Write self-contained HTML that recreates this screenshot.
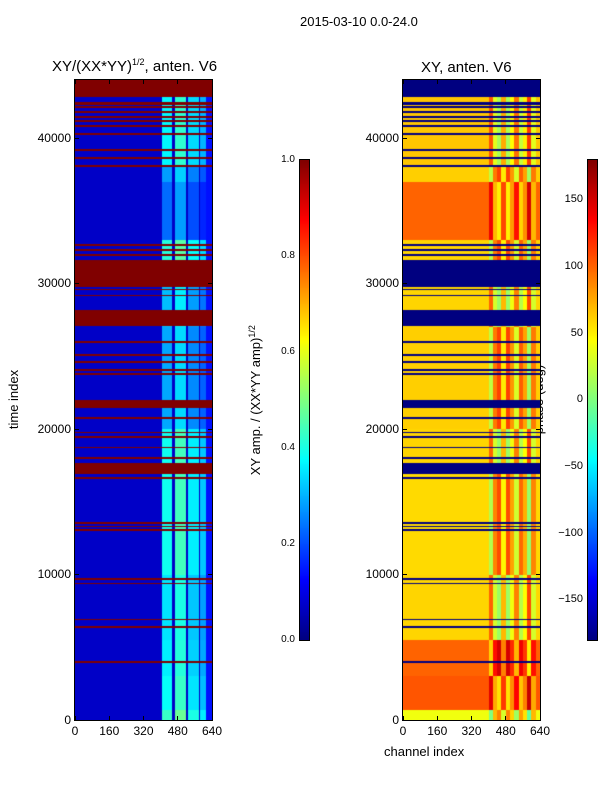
<!DOCTYPE html>
<html><head><meta charset="utf-8">
<style>
html,body{margin:0;padding:0;background:#fff;}
body{width:600px;height:800px;position:relative;overflow:hidden;font-family:"Liberation Sans",sans-serif;color:#000;}
.t{position:absolute;white-space:nowrap;}
canvas{position:absolute;}
.frame{position:absolute;border:1px solid #000;box-sizing:border-box;}
</style></head><body>
<div class="t" style="left:300px;top:14px;font-size:13px;">2015-03-10 0.0-24.0</div>
<div class="t" style="left:52px;top:57px;font-size:15px;">XY/(XX*YY)<sup style="font-size:9px">1/2</sup>, anten. V6</div>
<div class="t" style="left:421px;top:59px;font-size:15px;">XY, anten. V6</div>
<div class="t" style="left:-16px;top:392px;font-size:13px;transform:rotate(-90deg);">time index</div>
<div class="t" style="left:384px;top:744px;font-size:13px;">channel index</div>
<div class="t" style="left:180px;top:392px;font-size:13px;transform:rotate(-90deg);">XY amp. / (XX*YY amp)<sup style="font-size:9px">1/2</sup></div>
<div class="t" style="left:504px;top:392px;font-size:13px;transform:rotate(-90deg);">phase (deg)</div>

<canvas id="c1" width="137" height="640" style="left:75px;top:80px;"></canvas>
<canvas id="c2" width="137" height="640" style="left:403px;top:80px;"></canvas>
<canvas id="cb1" width="9" height="480" style="left:300px;top:160px;"></canvas>
<canvas id="cb2" width="9" height="480" style="left:588px;top:160px;"></canvas>
<div class="frame" style="left:74px;top:79px;width:139px;height:642px;"></div>
<div class="frame" style="left:402px;top:79px;width:139px;height:642px;"></div>
<div class="frame" style="left:299px;top:159px;width:11px;height:482px;"></div>
<div class="frame" style="left:587px;top:159px;width:11px;height:482px;"></div>
<div id="ticks"></div>

<script>
// ---- data ----
const timeMax = 44000;
const chanMax = 640;
const xTicks = [0,160,320,480,640];
const yTicks = [0,10000,20000,30000,40000];
const ampTicks = [0.0,0.2,0.4,0.6,0.8,1.0];
const phaseTicks = [-150,-100,-50,0,50,100,150];
// flagged time ranges
const flagStart = [42800,42300,42050,41700,41400,41100,40750,40200,39100,38550,38000,32600,32250,31900,29800,29550,29150,27100,25900,25050,24550,24000,23700,21450,20700,19700,19400,18700,17950,16900,16600,13500,13250,13000,9650,9350,6850,6350,3950];
const flagEnd   = [44000,42500,42200,41850,41550,41250,40900,40350,39250,38700,38150,32750,32400,32050,31600,29650,29250,28200,26050,25150,24650,24100,23850,22000,20850,19800,19500,18800,18050,17700,16700,13600,13350,13100,9750,9450,6950,6450,4050];
// time segments
const segStart = [0,700,3000,5500,10000,17000,20000,27000,31500,33000,37000,38000];
const segBright = [0.40,0.35,0.33,0.32,0.36,0.36,0.26,0.28,0.38,0.2,0.25,0.34];
const segPhase  = [40,105,100,60,58,60,62,60,60,100,62,65];
const segSign   = [1,-1,1,-1,1,-1,1,-1,1,-1,1,-1];
// bright channel stripes
const stripeStart = [405,465,530,585];
const stripeEnd   = [455,520,580,610];
const stripeOffset= [0.03,0.08,0.0,-0.04];
const ampBase = 0.07;
const ampEdge = 0.14;
// phase offsets for channels 400-640 (per 20 channels)
const phaseColOffset = [-40,30,50,-10,50,20,-30,40,15,-50,30,0];

function jetRGB(v){
  v=Math.max(0,Math.min(1,v));
  const f=(x)=>Math.max(0,Math.min(1,x));
  return [f(1.5-Math.abs(4*v-3))*255, f(1.5-Math.abs(4*v-2))*255, f(1.5-Math.abs(4*v-1))*255];
}
function segIdx(t){let k=0;for(let i=0;i<segStart.length;i++) if(t>=segStart[i]) k=i;return k;}
function flagged(t){for(let i=0;i<flagStart.length;i++) if(t>=flagStart[i]&&t<flagEnd[i]) return true;return false;}
function ampAt(t,c){
  const s=segIdx(t);
  for(let i=0;i<stripeStart.length;i++) if(c>=stripeStart[i]&&c<stripeEnd[i]) return segBright[s]+stripeOffset[i];
  if(c>=610) return ampEdge;
  return ampBase;
}
function phaseAt(t,c){
  const s=segIdx(t);
  if(c>=400){const k=Math.min(phaseColOffset.length-1,Math.floor((c-400)/20));return segPhase[s]+segSign[s]*phaseColOffset[k];}
  return segPhase[s];
}
const W=137,H=640;
// inverse axis functions (pixel -> data)
const xInv=px=>(px+0.5)/W*chanMax;
const yInv=py=>(H-py-0.5)/H*timeMax;
function draw(id,fn,flagVal){
  const ctx=document.getElementById(id).getContext('2d');
  const img=ctx.createImageData(W,H);
  for(let py=0;py<H;py++){
    const t=yInv(py);const fl=flagged(t);
    for(let px=0;px<W;px++){
      const rgb=jetRGB(fl?flagVal:fn(t,xInv(px)));
      const o=(py*W+px)*4;
      img.data[o]=rgb[0];img.data[o+1]=rgb[1];img.data[o+2]=rgb[2];img.data[o+3]=255;
    }
  }
  ctx.putImageData(img,0,0);
}
draw('c1',(t,c)=>ampAt(t,c),1);
draw('c2',(t,c)=>(phaseAt(t,c)+180)/360,0);
function cbar(id){const ctx=document.getElementById(id).getContext('2d');for(let i=0;i<480;i++){const r=jetRGB(1-(i+0.5)/480);ctx.fillStyle='rgb('+r.map(Math.round).join(',')+')';ctx.fillRect(0,i,9,1);}}
cbar('cb1');cbar('cb2');

const tk=document.getElementById('ticks');
function lab(txt,x,y,al,sz,name){
  const d=document.createElement('div');d.className='t';d.textContent=txt;
  
  
  d.style.fontSize=sz+'px';d.style.top=(y-sz*0.6)+'px';
  if(al==='c'){d.style.left=x+'px';d.style.transform='translateX(-50%)';}
  else{d.style.right=(600-x)+'px';}
  tk.appendChild(d);
}
function tick(x,y,w,h,name){
  const d=document.createElement('div');d.style.cssText='position:absolute;background:#000;left:'+x+'px;top:'+y+'px;width:'+w+'px;height:'+h+'px;';
  
  
  tk.appendChild(d);
}
[75,403].forEach(ox=>{
  xTicks.forEach(v=>{const x=ox+v/chanMax*W;lab(String(v),x,731,'c',12,'x-tick-label');tick(x-0.5,716,1,4,'x-tick');tick(x-0.5,80,1,4,'x-tick');});
  yTicks.forEach(v=>{const y=80+H-v/timeMax*H;lab(String(v),ox-4,y,'r',12,'y-tick-label');tick(ox,y-0.5,4,1,'y-tick');tick(ox+W-4,y-0.5,4,1,'y-tick');});
});
ampTicks.forEach(v=>{const y=160+(1-v)*480;lab(v.toFixed(1),295,y,'r',10,'amp-colorbar-tick-label');});
phaseTicks.forEach(v=>{const y=160+(180-v)/360*480;lab(String(v).replace('-','\u2212'),583,y,'r',11,'phase-colorbar-tick-label');});
</script>
</body></html>
